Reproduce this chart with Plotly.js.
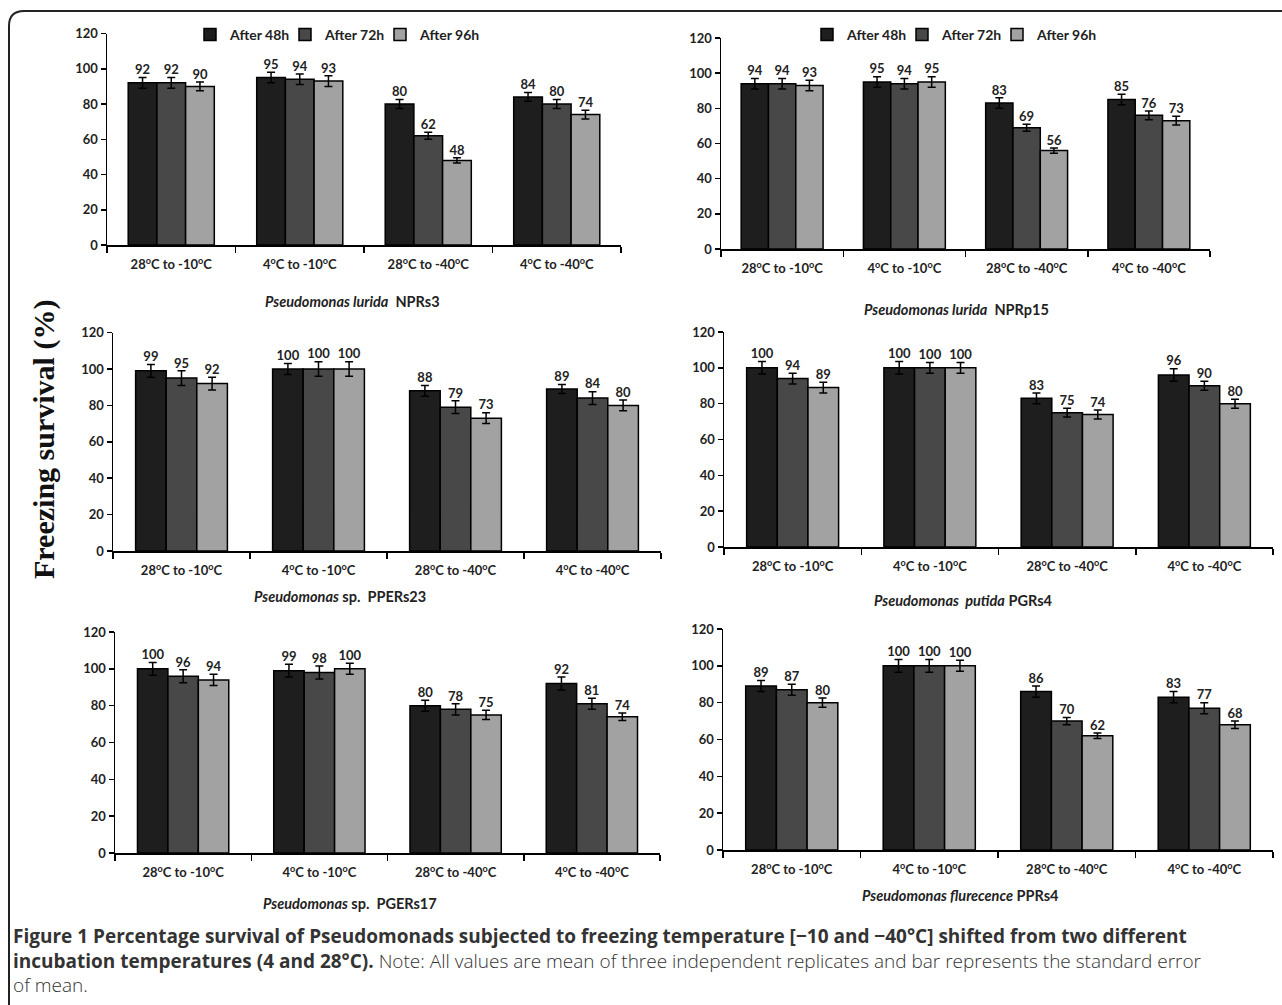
<!DOCTYPE html>
<html>
<head>
<meta charset="utf-8">
<script src="https://cdn.plot.ly/plotly-3.0.1.min.js"></script>
<style>
html,body{margin:0;padding:0;background:#fff;}
#chart{width:1282px;height:1005px;}
</style>
</head>
<body>
<div id="chart"></div>
<script>
// ---------------- DATA ----------------
const categories = ['28<sup>o</sup>C to -10<sup>o</sup>C', '4<sup>o</sup>C to -10<sup>o</sup>C', '28<sup>o</sup>C to -40<sup>o</sup>C', '4<sup>o</sup>C to -40<sup>o</sup>C'];
const seriesNames = ['After 48h', 'After 72h', 'After 96h'];
const yTicks = [0, 20, 40, 60, 80, 100, 120];

// Pseudomonas lurida NPRs3
const nprs3_48 = [92, 95, 80, 84];
const nprs3_72 = [92, 94, 62, 80];
const nprs3_96 = [90, 93, 48, 74];
const nprs3_48_se = [3, 3, 2.5, 2.5];
const nprs3_72_se = [3, 3, 2, 2.5];
const nprs3_96_se = [2.5, 3, 1.5, 2.5];

// Pseudomonas lurida NPRp15
const nprp15_48 = [94, 95, 83, 85];
const nprp15_72 = [94, 94, 69, 76];
const nprp15_96 = [93, 95, 56, 73];
const nprp15_48_se = [3, 3, 3, 3];
const nprp15_72_se = [3, 3, 2, 2.5];
const nprp15_96_se = [3, 3, 1.5, 2.5];

// Pseudomonas sp. PPERs23
const pper23_48 = [99, 100, 88, 89];
const pper23_72 = [95, 100, 79, 84];
const pper23_96 = [92, 100, 73, 80];
const pper23_48_se = [3.5, 3, 3, 2.5];
const pper23_72_se = [4, 4, 3.5, 3.5];
const pper23_96_se = [3.5, 4, 3, 3];

// Pseudomonas putida PGRs4
const pgrs4_48 = [100, 100, 83, 96];
const pgrs4_72 = [94, 100, 75, 90];
const pgrs4_96 = [89, 100, 74, 80];
const pgrs4_48_se = [3.5, 3.5, 3, 3.5];
const pgrs4_72_se = [3, 3, 2.5, 2.5];
const pgrs4_96_se = [3, 3, 2.5, 2.5];

// Pseudomonas sp. PGERs17
const pger17_48 = [100, 99, 80, 92];
const pger17_72 = [96, 98, 78, 81];
const pger17_96 = [94, 100, 75, 74];
const pger17_48_se = [3.5, 3.5, 3, 3.5];
const pger17_72_se = [3.5, 3.5, 3, 3];
const pger17_96_se = [3, 3, 2.5, 2];

// Pseudomonas flurecence PPRs4
const pprs4_48 = [89, 100, 86, 83];
const pprs4_72 = [87, 100, 70, 77];
const pprs4_96 = [80, 100, 62, 68];
const pprs4_48_se = [3, 3.5, 3, 3];
const pprs4_72_se = [3, 3.5, 2, 3];
const pprs4_96_se = [2.5, 3, 1.5, 2];

const subtitles = [
  '<i>Pseudomonas lurida</i>&nbsp; NPRs3',
  '<i>Pseudomonas lurida</i>&nbsp; NPRp15',
  '<i>Pseudomonas</i> sp.&nbsp; PPERs23',
  '<i>Pseudomonas&nbsp; putida</i> PGRs4',
  '<i>Pseudomonas</i> sp.&nbsp; PGERs17',
  '<i>Pseudomonas flurecence</i> PPRs4'
];
const yTitle = 'Freezing survival (%)';
const captionLines = [
  '<b>Figure 1 Percentage survival of Pseudomonads subjected to freezing temperature [\u221210 and \u221240\u00b0C] shifted from two different</b>',
  '<b>incubation temperatures (4 and 28\u00b0C).</b> Note: All values are mean of three independent replicates and bar represents the standard error',
  'of mean.'
];

// ---------------- LAYOUT HELPERS ----------------
const W = 1282, H = 1005;
const px = x => x / W;
const py = y => 1 - y / H;

const panelData = [
  [[nprs3_48, nprs3_72, nprs3_96], [nprs3_48_se, nprs3_72_se, nprs3_96_se]],
  [[nprp15_48, nprp15_72, nprp15_96], [nprp15_48_se, nprp15_72_se, nprp15_96_se]],
  [[pper23_48, pper23_72, pper23_96], [pper23_48_se, pper23_72_se, pper23_96_se]],
  [[pgrs4_48, pgrs4_72, pgrs4_96], [pgrs4_48_se, pgrs4_72_se, pgrs4_96_se]],
  [[pger17_48, pger17_72, pger17_96], [pger17_48_se, pger17_72_se, pger17_96_se]],
  [[pprs4_48, pprs4_72, pprs4_96], [pprs4_48_se, pprs4_72_se, pprs4_96_se]]
];

// pixel geometry of each panel: x-domain, y (value 0 px, value 120 px), subtitle centre
const geom = [
  {x0: 107, x1: 621, yb: 245, yt: 33.5, sx: 352, sy: 302},
  {x0: 721, x1: 1210, yb: 249, yt: 38, sx: 956, sy: 310},
  {x0: 113, x1: 661, yb: 551, yt: 332.6, sx: 340, sy: 596},
  {x0: 724, x1: 1273, yb: 547, yt: 332, sx: 963, sy: 600},
  {x0: 115, x1: 660, yb: 853, yt: 632, sx: 350, sy: 903},
  {x0: 723, x1: 1273, yb: 850, yt: 629, sx: 960, sy: 895}
];

const barColors = ['#1e1e1e', '#484848', '#a2a2a2'];
const legendWidths = [50, 50, 62];
const textFont = {family: 'Lato, sans-serif', size: 13, color: '#222', weight: 700};
const tickFont = {family: 'Lato, sans-serif', size: 13, color: '#222', weight: 700};

const traces = [];
const layout = {
  width: W, height: H,
  margin: {l: 0, r: 0, t: 0, b: 0},
  paper_bgcolor: '#fff', plot_bgcolor: 'rgba(0,0,0,0)',
  barmode: 'group', bargap: 0.33, bargroupgap: 0,
  scattermode: 'group', scattergap: 0.33,
  showlegend: true,
  annotations: [], shapes: []
};

panelData.forEach((pd, i) => {
  const g = geom[i];
  const n = i === 0 ? '' : String(i + 1);
  const xa = 'x' + n, ya = 'y' + n;
  const legendName = i === 0 ? 'legend' : 'legend2';
  pd[0].forEach((vals, s) => {
    traces.push({
      type: 'bar', x: categories, y: vals, name: seriesNames[s],
      xaxis: xa, yaxis: ya,
      marker: {color: barColors[s], line: {color: '#000', width: 1.5}},
      error_y: {type: 'data', array: pd[1][s], visible: true, color: '#000', thickness: 1.5, width: 4},
      showlegend: i < 2, legend: legendName, legendwidth: legendWidths[s],
      hoverinfo: 'x+y'
    });
  });
  pd[0].forEach((vals, s) => {
    traces.push({
      type: 'scatter', mode: 'text', x: categories,
      y: vals.map((v, k) => v + pd[1][s][k]),
      text: vals.map(v => String(v)), textposition: 'top center',
      textfont: textFont, xaxis: xa, yaxis: ya, showlegend: false, hoverinfo: 'skip'
    });
  });
  layout['xaxis' + n] = {
    domain: [px(g.x0), px(g.x1)], anchor: ya, type: 'category',
    showline: true, linecolor: '#000', linewidth: 1.5,
    ticks: 'outside', tickson: 'boundaries', ticklen: 6, tickwidth: 1.5, tickcolor: '#000',
    ticklabelstandoff: 7,
    tickfont: tickFont,
    showgrid: false, zeroline: false, fixedrange: true
  };
  layout['yaxis' + n] = {
    domain: [py(g.yb), py(g.yt)], anchor: xa, range: [0, 120],
    tickvals: yTicks, ticktext: yTicks.map(String),
    showline: true, linecolor: '#000', linewidth: 1.5,
    ticks: 'outside', ticklen: 5, tickwidth: 1.5, tickcolor: '#000',
    tickfont: tickFont,
    showgrid: false, zeroline: false, fixedrange: true
  };
  layout.annotations.push({
    xref: 'paper', yref: 'paper', x: px(g.sx), y: py(g.sy), xanchor: 'center', yanchor: 'middle',
    text: subtitles[i], showarrow: false,
    font: {family: 'Lato, sans-serif', size: 14.5, color: '#222', weight: 700}
  });
});

const legendCommon = {
  orientation: 'h', yanchor: 'middle', xanchor: 'left',
  font: {family: 'Lato, sans-serif', size: 14, color: '#222', weight: 700},
  itemwidth: 30, entrywidthmode: 'pixels',
  bgcolor: 'rgba(0,0,0,0)', traceorder: 'normal'
};
layout.legend = Object.assign({}, legendCommon, {x: px(190), y: py(35)});
layout.legend2 = Object.assign({}, legendCommon, {x: px(807), y: py(35)});

// shared y-axis title
layout.annotations.push({
  xref: 'paper', yref: 'paper', x: px(44), y: py(440), xanchor: 'center', yanchor: 'middle',
  text: '<b>' + yTitle + '</b>', textangle: -90, showarrow: false,
  font: {family: '"Liberation Serif", "Times New Roman", serif', size: 30, color: '#111'}
});

// caption (one block of three lines)
layout.annotations.push({
  xref: 'paper', yref: 'paper', x: px(11), y: py(960), xanchor: 'left', yanchor: 'middle',
  text: captionLines.join('<br>'), showarrow: false, align: 'left',
  font: {family: '"Open Sans", sans-serif', size: 19, color: '#333', weight: 300}
});

// rounded frame (top-left corner)
layout.shapes.push({
  type: 'path', xref: 'paper', yref: 'paper',
  path: `M 1,${py(11)} L ${px(24)},${py(11)} Q ${px(9)},${py(11)} ${px(9)},${py(26)} L ${px(9)},0`,
  line: {color: '#222', width: 2}
});

Plotly.newPlot('chart', traces, layout, {displayModeBar: false, staticPlot: true});
</script>
</body>
</html>
